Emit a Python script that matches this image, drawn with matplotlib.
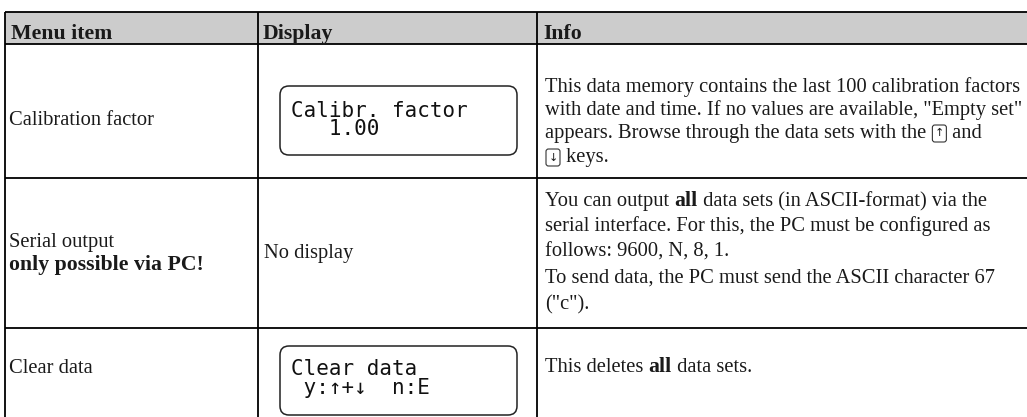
import matplotlib
matplotlib.use("Agg")
import matplotlib.pyplot as plt
from matplotlib.patches import FancyBboxPatch, Rectangle

# ---------------- data ----------------
headers = ["Menu item", "Display", "Info"]
menu_items = [
    [("Calibration factor", False)],
    [("Serial output", False), ("only possible via PC!", True)],
    [("Clear data", False)],
]
display_lines = [
    ["Calibr. factor", "   1.00"],
    None,
    ["Clear data", " y:↑+↓  n:E"],
]
no_display_text = "No display"
info_row1 = [
    [("This data memory contains the last 100 calibration factors", "n")],
    [("with date and time. If no values are available, \"Empty set\"", "n")],
    [("appears. Browse through the data sets with the ", "n"), ("↑", "key"), (" and", "n")],
    [("↓", "key"), (" keys.", "n")],
]
info_row2 = [
    [("You can output ", "n"), ("all", "b"), (" data sets (in ASCII-format) via the", "n")],
    [("serial interface. For this, the PC must be configured as", "n")],
    [("follows: 9600, N, 8, 1.", "n")],
    [("To send data, the PC must send the ASCII character 67", "n")],
    [("(\"c\").", "n")],
]
info_row3 = [
    [("This deletes ", "n"), ("all", "b"), (" data sets.", "n")],
]

# ---------------- layout (pixels) ----------------
W, H = 1027, 417
SERIF = "Liberation Serif"
MONO = "DejaVu Sans Mono"
LCD_FS = 15.0
TXT = "#1a1a1a"

fig = plt.figure(figsize=(W / 100, H / 100), dpi=100)
ax = fig.add_axes([0, 0, 1, 1])
ax.set_xlim(0, W)
ax.set_ylim(H, 0)
ax.axis("off")
renderer = fig.canvas.get_renderer()

# fit serif size to reference line width
probe = ax.text(0, 0, info_row1[0][0][0], fontsize=10, family=SERIF)
w10 = probe.get_window_extent(renderer).width
probe.remove()
FS = 10 * 476 / w10
FSB = FS * 1.06


def twidth(s, bold=False):
    size = FSB if bold else FS
    kw = dict(fontsize=size, family=SERIF, fontweight="bold" if bold else "normal")
    t1 = ax.text(0, 0, "|" + s + "|", **kw)
    t2 = ax.text(0, 0, "||", **kw)
    w = t1.get_window_extent(renderer).width - t2.get_window_extent(renderer).width
    t1.remove()
    t2.remove()
    return w


def rich_line(x, y, parts):
    for s, kind in parts:
        if kind == "key":
            kw_, kh = 14, 17
            ax.add_patch(FancyBboxPatch((x + 1, y - 13), kw_, kh,
                                        boxstyle="round,pad=0,rounding_size=2.5",
                                        fc="white", ec="#333333", lw=0.8))
            ax.text(x + 1 + kw_ / 2, y - 13 + kh / 2, s, ha="center", va="center",
                    fontsize=8, family="DejaVu Sans", color=TXT)
            x += kw_ + 2
        else:
            bold = kind == "b"
            ax.text(x, y, s, fontsize=FSB if bold else FS, family=SERIF, color=TXT,
                    fontweight="bold" if bold else "normal", va="baseline", ha="left")
            x += twidth(s, bold)


# table geometry
left, c1, c2, right = 5, 258, 537, W
top, hdr, r1, r2, bottom = 12, 44, 178, 328, H
LW = 1.3

ax.add_patch(Rectangle((left, top), right - left, hdr - top, fc="#cccccc", ec="none"))
for y in (top, hdr, r1, r2):
    ax.plot([left, right], [y, y], color="black", lw=LW, solid_capstyle="butt")
for x in (left, c1, c2):
    ax.plot([x, x], [top, bottom], color="black", lw=LW, solid_capstyle="butt")

# header
for x, h in zip((11, 263, 543), headers):
    ax.text(x, 38.5, h, fontsize=FSB, family=SERIF, fontweight="bold", color=TXT,
            va="baseline")

# menu column
menu_baselines = [[125], [247, 270], [373]]
for items, ys in zip(menu_items, menu_baselines):
    for (s, b), y in zip(items, ys):
        ax.text(9, y, s, fontsize=FSB if b else FS, family=SERIF, color=TXT,
                fontweight="bold" if b else "normal", va="baseline")

# display column
lcd_boxes = [(280, 86, 237, 69), None, (280, 346, 237, 69)]
lcd_baselines = [[117, 135], None, [375, 394]]
for lines, box, ys in zip(display_lines, lcd_boxes, lcd_baselines):
    if lines is None:
        continue
    bx, by, bw, bh = box
    ax.add_patch(FancyBboxPatch((bx, by), bw, bh,
                                boxstyle="round,pad=0,rounding_size=9",
                                fc="white", ec="#222222", lw=1.1))
    for s, y in zip(lines, ys):
        ax.text(291, y, s, fontsize=LCD_FS, family=MONO, color="#111111",
                va="baseline")
ax.text(264, 258, no_display_text, fontsize=FS, family=SERIF, color=TXT, va="baseline")

# info column
for lines, ys in ((info_row1, [92, 115, 138, 162]),
                  (info_row2, [206, 231, 257, 283, 309]),
                  (info_row3, [372])):
    for parts, y in zip(lines, ys):
        rich_line(545, y, parts)

fig.savefig("out.png", dpi=100)
